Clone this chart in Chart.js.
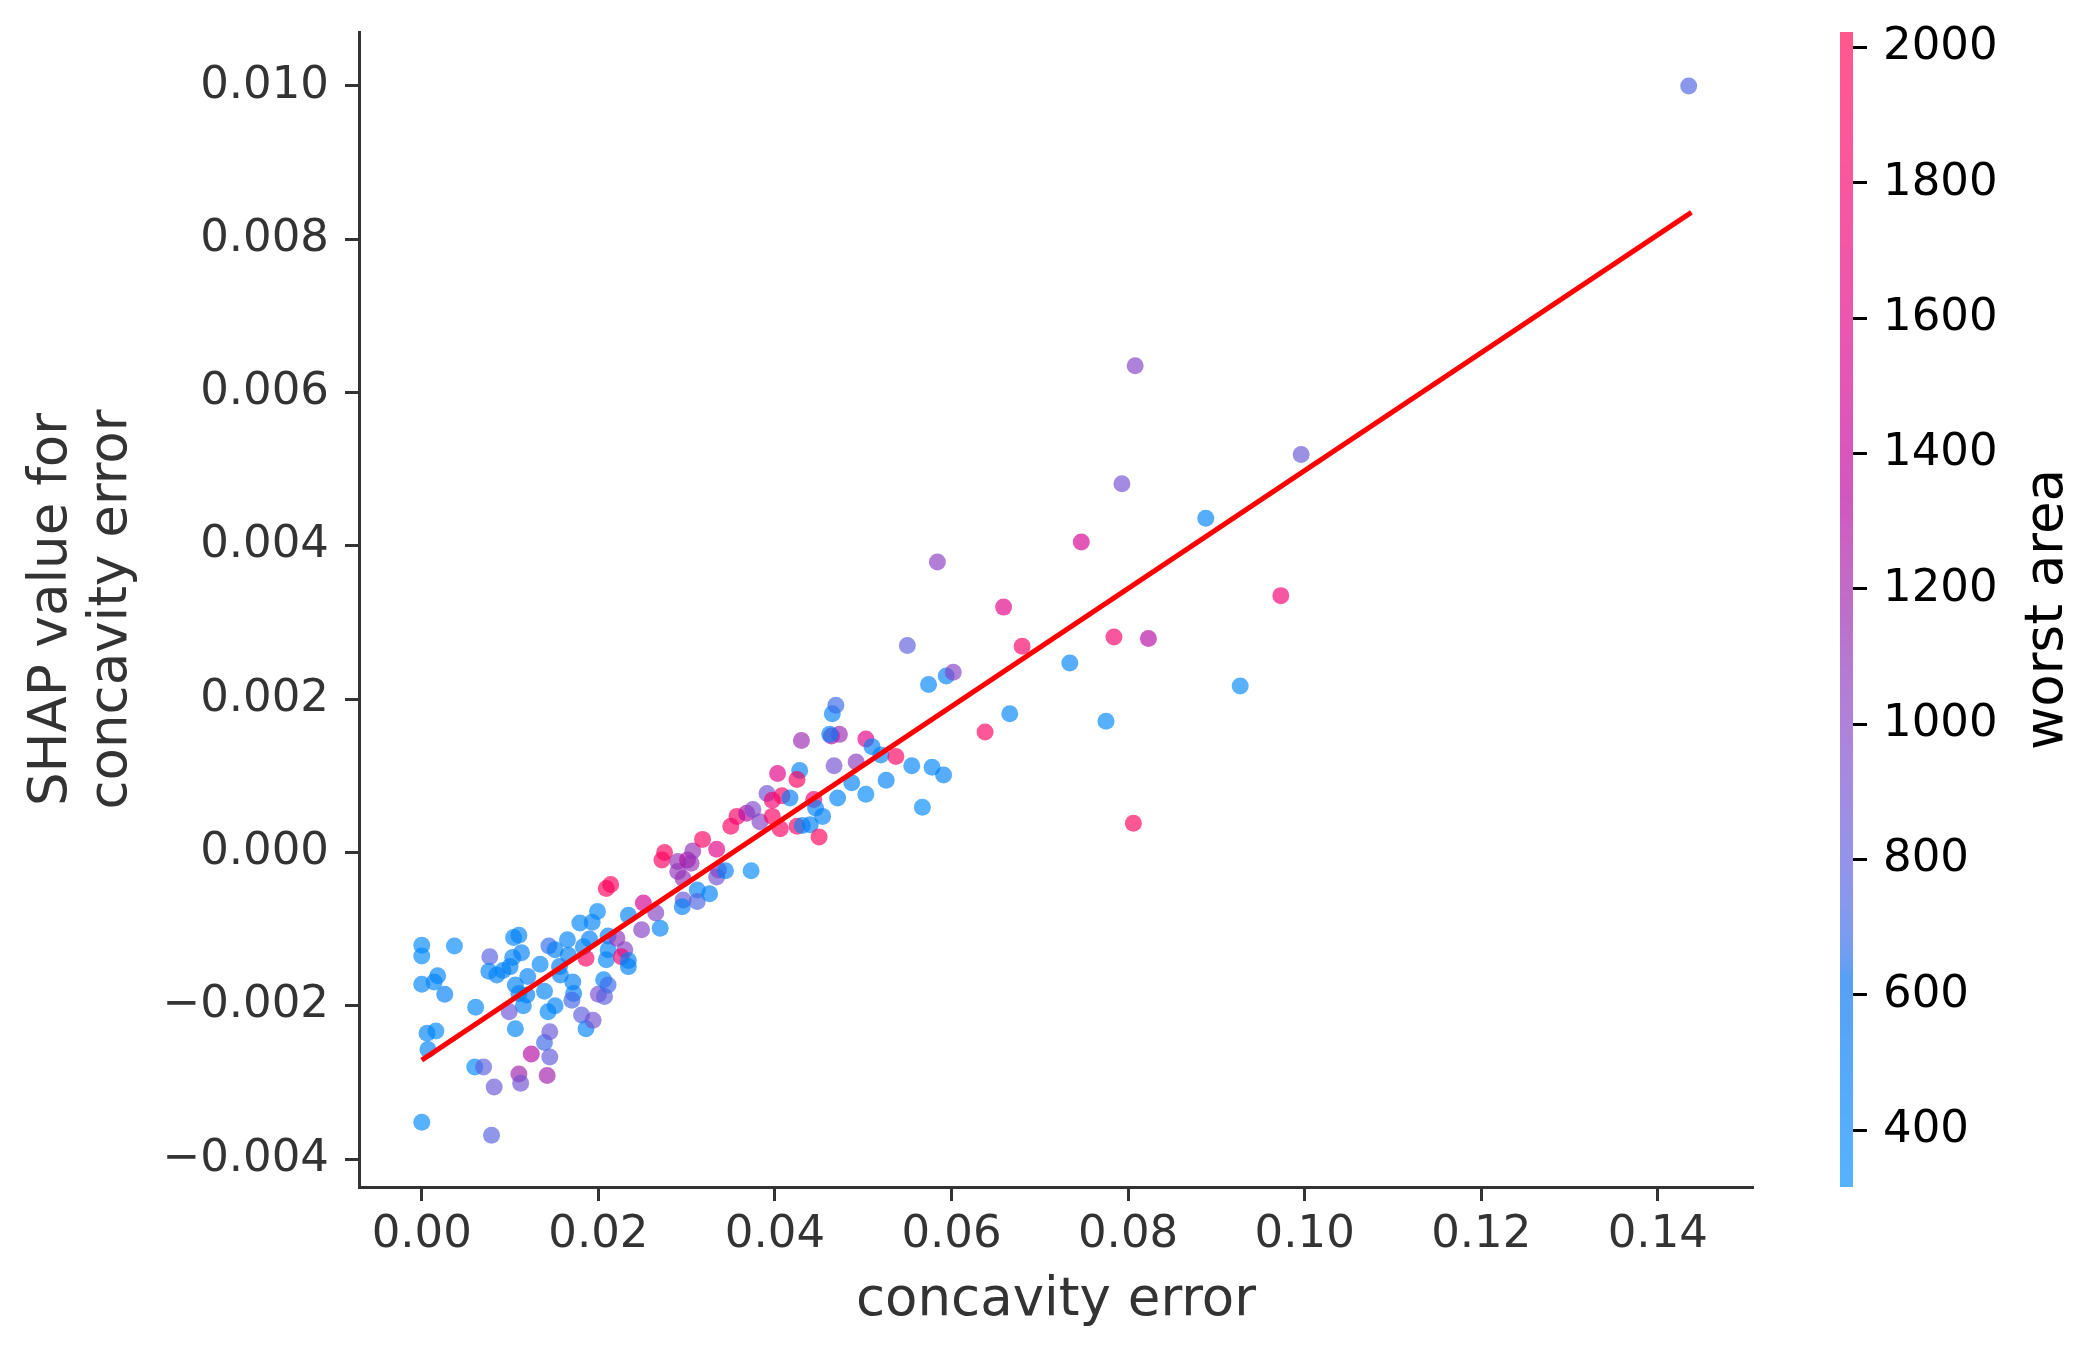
<!DOCTYPE html>
<html>
<head>
<meta charset="utf-8">
<script src="https://cdn.jsdelivr.net/npm/chart.js@4.4.1/dist/chart.umd.min.js"></script>
<style>
  html, body { margin: 0; padding: 0; background: #ffffff; }
  #wrap { width: 2098px; height: 1361px; }
</style>
</head>
<body>
<div id="wrap"><canvas id="c" width="2098" height="1361" style="width:2098px;height:1361px"></canvas></div>
<script>
// ---------------- data ----------------
const concavityError = [
  0.0000, 0.0000, 0.0000, 0.0000, 0.0037, 0.0018, 0.0014, 0.0026, 0.0006, 0.0016,
  0.0007, 0.0061, 0.0060, 0.0070, 0.0082, 0.0079, 0.0077, 0.0076, 0.0085, 0.0092,
  0.0100, 0.0104, 0.0110, 0.0103, 0.0113, 0.0106, 0.0120, 0.0119, 0.0110, 0.0115,
  0.0099, 0.0106, 0.0124, 0.0110, 0.0112, 0.0142, 0.0145, 0.0139, 0.0145, 0.0143,
  0.0151, 0.0139, 0.0134, 0.0144, 0.0151, 0.0156, 0.0157, 0.0165, 0.0166, 0.0171,
  0.0172, 0.0170, 0.0179, 0.0193, 0.0199, 0.0190, 0.0183, 0.0186, 0.0181, 0.0186,
  0.0194, 0.0200, 0.0207, 0.0206, 0.0211, 0.0209, 0.0211, 0.0211, 0.0221, 0.0230,
  0.0226, 0.0234, 0.0234, 0.0234, 0.0209, 0.0214, 0.0251, 0.0249, 0.0265, 0.0270,
  0.0272, 0.0275, 0.0290, 0.0290, 0.0296, 0.0301, 0.0307, 0.0305, 0.0296, 0.0295,
  0.0312, 0.0312, 0.0326, 0.0318, 0.0334, 0.0334, 0.0336, 0.0344, 0.0373, 0.0350,
  0.0357, 0.0368, 0.0375, 0.0383, 0.0391, 0.0397, 0.0397, 0.0406, 0.0408, 0.0403,
  0.0417, 0.0428, 0.0425, 0.0425, 0.0431, 0.0440, 0.0430, 0.0444, 0.0446, 0.0454,
  0.0450, 0.0464, 0.0473, 0.0462, 0.0465, 0.0469, 0.0467, 0.0471, 0.0487, 0.0492,
  0.0503, 0.0510, 0.0520, 0.0537, 0.0503, 0.0526, 0.0555, 0.0578, 0.0591, 0.0567,
  0.0638, 0.0666, 0.0808, 0.0996, 0.0793, 0.0888, 0.0747, 0.0584, 0.0659, 0.0973,
  0.0784, 0.0823, 0.0680, 0.0550, 0.0734, 0.0574, 0.0594, 0.0602, 0.0927, 0.0775,
  0.0806, 0.1435
];
const shapValues = [
  -0.00121, -0.00135, -0.00172, -0.00352, -0.00122, -0.00161, -0.00169, -0.00185, -0.00236, -0.00233,
  -0.00257, -0.00202, -0.00280, -0.00280, -0.00306, -0.00369, -0.00136, -0.00155, -0.00160, -0.00154,
  -0.00149, -0.00111, -0.00108, -0.00137, -0.00131, -0.00173, -0.00162, -0.00186, -0.00184, -0.00200,
  -0.00208, -0.00230, -0.00263, -0.00289, -0.00301, -0.00291, -0.00267, -0.00248, -0.00234, -0.00208,
  -0.00200, -0.00181, -0.00146, -0.00122, -0.00127, -0.00149, -0.00160, -0.00114, -0.00134, -0.00169,
  -0.00184, -0.00193, -0.00092, -0.00091, -0.00077, -0.00113, -0.00123, -0.00138, -0.00212, -0.00230,
  -0.00219, -0.00185, -0.00188, -0.00166, -0.00173, -0.00140, -0.00127, -0.00109, -0.00112, -0.00127,
  -0.00136, -0.00141, -0.00149, -0.00082, -0.00047, -0.00042, -0.00066, -0.00101, -0.00079, -0.00099,
  -0.00010, 0.00000, -0.00012, -0.00025, -0.00034, -0.00010, 0.00002, -0.00014, -0.00062, -0.00071,
  -0.00049, -0.00064, -0.00054, 0.00017, 0.00004, -0.00032, -0.00023, -0.00024, -0.00024, 0.00034,
  0.00047, 0.00051, 0.00056, 0.00040, 0.00077, 0.00068, 0.00047, 0.00031, 0.00074, 0.00103,
  0.00071, 0.00107, 0.00095, 0.00034, 0.00035, 0.00036, 0.00146, 0.00069, 0.00058, 0.00047,
  0.00020, 0.00152, 0.00154, 0.00154, 0.00181, 0.00192, 0.00113, 0.00071, 0.00091, 0.00118,
  0.00148, 0.00138, 0.00127, 0.00125, 0.00076, 0.00094, 0.00113, 0.00111, 0.00101, 0.00059,
  0.00157, 0.00181, 0.00635, 0.00519, 0.00481, 0.00436, 0.00405, 0.00379, 0.00320, 0.00335,
  0.00281, 0.00279, 0.00269, 0.00270, 0.00247, 0.00219, 0.00230, 0.00235, 0.00217, 0.00171,
  0.00038, 0.01000
];
const worstArea = [
  350, 330, 380, 340, 330, 420, 400, 440, 420, 360,
  420, 380, 340, 800, 850, 780, 780, 420, 420, 420,
  440, 400, 420, 420, 440, 430, 440, 440, 420, 420,
  860, 400, 1300, 1200, 900, 1200, 820, 700, 850, 380,
  420, 380, 380, 680, 460, 480, 440, 420, 460, 460,
  440, 720, 380, 420, 360, 440, 420, 1900, 800, 380,
  900, 920, 800, 420, 700, 400, 420, 420, 1100, 1000,
  1800, 420, 460, 420, 1950, 1950, 1500, 1000, 1000, 420,
  1900, 1950, 1100, 1100, 1100, 1300, 1100, 1100, 850, 440,
  420, 750, 420, 1900, 1600, 900, 1000, 440, 350, 1900,
  1850, 1300, 950, 1000, 900, 1800, 1900, 1900, 1900, 1600,
  440, 420, 1950, 1900, 420, 440, 1150, 1700, 420, 420,
  1950, 1300, 1150, 420, 420, 700, 900, 420, 420, 1050,
  1600, 440, 420, 1900, 350, 420, 400, 400, 420, 350,
  1900, 400, 1000, 850, 900, 420, 1500, 1050, 1600, 1750,
  1800, 1300, 1850, 800, 420, 400, 420, 1000, 350, 360,
  1950, 750
];
const trendX = [0.0, 0.1438];
const trendY = [-0.00271, 0.00835];

const xTickValues = [0.00, 0.02, 0.04, 0.06, 0.08, 0.10, 0.12, 0.14];
const yTickValues = [-0.004, -0.002, 0.000, 0.002, 0.004, 0.006, 0.008, 0.010];
const cbTickValues = [400, 600, 800, 1000, 1200, 1400, 1600, 1800, 2000];
const xRange = [-0.00711, 0.15078];
const yRange = [-0.004365, 0.010703];
const cbRange = [316, 2023];

// ---------------- colormap (shap red_blue, LCH interpolated) ----------------
function lab2rgb(L, a, b) {
  const fy = (L + 16) / 116, fx = fy + a / 500, fz = fy - b / 200;
  const f = t => (t > 0.2068966 ? t * t * t : (t - 16 / 116) / 7.787);
  const X = 0.95047 * f(fx), Y = f(fy), Z = 1.08883 * f(fz);
  const r = 3.2404542 * X - 1.5371385 * Y - 0.4985314 * Z;
  const g = -0.9692660 * X + 1.8760108 * Y + 0.0415560 * Z;
  const bl = 0.0556434 * X - 0.2040259 * Y + 1.0572252 * Z;
  const gam = c => { c = c > 0.0031308 ? 1.055 * Math.pow(c, 1 / 2.4) - 0.055 : 12.92 * c; return Math.min(1, Math.max(0, c)); };
  return [gam(r), gam(g), gam(bl)];
}
const cmapStops = [];
(function () {
  const n = 100, h0 = 4.6588, h1 = 0.35470565 + 2 * Math.PI;
  for (let i = 0; i < n; i++) {
    const L = i < 50 ? 54 + (40 - 54) * i / 49 : 40 + (54 - 40) * (i - 50) / 49;
    const C = 70 + 20 * i / (n - 1);
    const h = h0 + (h1 - h0) * i / (n - 1);
    cmapStops.push(lab2rgb(L, C * Math.cos(h), C * Math.sin(h)));
  }
})();
function cmap(t) {
  t = Math.min(1, Math.max(0, t));
  const p = t * (cmapStops.length - 1), i = Math.floor(p), j = Math.min(i + 1, cmapStops.length - 1), f = p - i;
  return cmapStops[i].map((v, k) => (v + (cmapStops[j][k] - v) * f) * 255);
}
const ALPHA = 0.66;
function pointColor(v) {
  const c = cmap((v - cbRange[0]) / (cbRange[1] - cbRange[0]));
  return `rgba(${c[0].toFixed(0)},${c[1].toFixed(0)},${c[2].toFixed(0)},${ALPHA})`;
}
function barColor(v) {
  const c = cmap((v - cbRange[0]) / (cbRange[1] - cbRange[0]));
  const m = c.map(x => Math.round(x * ALPHA + 255 * (1 - ALPHA)));
  return `rgb(${m[0]},${m[1]},${m[2]})`;
}

const points = concavityError.map((x, i) => ({ x: x, y: shapValues[i] }));
const pointColors = worstArea.map(pointColor);
const trend = trendX.map((x, i) => ({ x: x, y: trendY[i] }));

const FONT = 'DejaVu Sans';
const fmtMinus = (v, d) => (v < 0 ? '\u2212' + Math.abs(v).toFixed(d) : Math.abs(v).toFixed(d));
const noPad = s => { s.paddingTop = 0; s.paddingBottom = 0; s.paddingLeft = 0; s.paddingRight = 0; };

const colorbarPlugin = {
  id: 'colorbar',
  afterDraw(chart) {
    const cb = chart.scales.cb;
    const ctx = chart.ctx;
    ctx.save();
    const x0 = Math.round(cb.left), w = 13;
    for (let py = Math.floor(cb.top); py < Math.ceil(cb.bottom); py++) {
      ctx.fillStyle = barColor(cb.getValueForPixel(py + 0.5));
      ctx.fillRect(x0, py, w, 1);
    }
    ctx.translate(cb.left + 222, (cb.top + cb.bottom) / 2);
    ctx.rotate(-Math.PI / 2);
    ctx.font = `53px "${FONT}"`;
    ctx.fillStyle = '#000000';
    ctx.textAlign = 'center';
    ctx.textBaseline = 'alphabetic';
    ctx.fillText('worst area', 0, 0);
    ctx.restore();
  }
};

new Chart(document.getElementById('c'), {
  type: 'scatter',
  data: {
    datasets: [
      {
        label: 'trend',
        data: trend,
        showLine: true,
        borderColor: '#ff0000',
        borderWidth: 5,
        pointRadius: 0,
        fill: false,
        order: 0
      },
      {
        label: 'points',
        data: points,
        pointRadius: 8.5,
        pointBorderWidth: 0,
        borderWidth: 0,
        pointBackgroundColor: pointColors,
        backgroundColor: pointColors,
        order: 1
      }
    ]
  },
  options: {
    responsive: false,
    devicePixelRatio: 1,
    animation: false,
    events: [],
    layout: { padding: { top: 32, left: 0, right: 0, bottom: 0 } },
    plugins: { legend: { display: false }, tooltip: { enabled: false } },
    scales: {
      x: {
        type: 'linear', position: 'bottom',
        min: xRange[0], max: xRange[1],
        afterBuildTicks: s => { s.ticks = xTickValues.map(v => ({ value: v })); },
        afterFit: s => { s.height = 174; noPad(s); },
        ticks: {
          callback: v => fmtMinus(v, 2),
          font: { family: FONT, size: 45, lineHeight: 1.2 },
          color: '#333333', padding: 7, maxRotation: 0, autoSkip: false
        },
        grid: { display: true, drawOnChartArea: false, drawTicks: true, tickLength: 14, tickWidth: 3, tickColor: '#333333' },
        border: { display: true, color: '#333333', width: 3 },
        title: {
          display: true, text: 'concavity error', color: '#333333',
          font: { family: FONT, size: 53, lineHeight: 1.14 },
          padding: { top: 0, bottom: 30 }
        }
      },
      y: {
        type: 'linear', position: 'left',
        min: yRange[0], max: yRange[1],
        afterBuildTicks: s => { s.ticks = yTickValues.map(v => ({ value: v })); },
        afterFit: s => { s.width = 359; noPad(s); },
        ticks: {
          callback: v => fmtMinus(v, 3),
          font: { family: FONT, size: 45, lineHeight: 1.2 },
          color: '#333333', padding: 16, autoSkip: false
        },
        grid: { display: true, drawOnChartArea: false, drawTicks: true, tickLength: 14, tickWidth: 3, tickColor: '#333333' },
        border: { display: true, color: '#333333', width: 3 },
        title: {
          display: true, text: ['SHAP value for', 'concavity error'], color: '#333333',
          font: { family: FONT, size: 53, lineHeight: 1.14 },
          padding: { top: 22, bottom: 0 }
        }
      },
      gap: {
        type: 'linear', position: 'right', weight: 0, display: true,
        min: 0, max: 1,
        ticks: { display: false },
        grid: { display: false, drawTicks: false },
        border: { display: false },
        afterFit: s => { s.width = 87; noPad(s); }
      },
      cb: {
        type: 'linear', position: 'right', weight: 1,
        min: cbRange[0], max: cbRange[1],
        afterBuildTicks: s => { s.ticks = cbTickValues.map(v => ({ value: v })); },
        afterFit: s => { s.width = 258; noPad(s); },
        ticks: {
          callback: v => String(v),
          font: { family: FONT, size: 45, lineHeight: 1.2 },
          color: '#000000', padding: 16, autoSkip: false
        },
        grid: { display: true, drawOnChartArea: false, drawTicks: true, tickLength: 27, tickWidth: 3, tickColor: '#000000' },
        border: { display: false }
      }
    }
  },
  plugins: [colorbarPlugin]
});
</script>
</body>
</html>
